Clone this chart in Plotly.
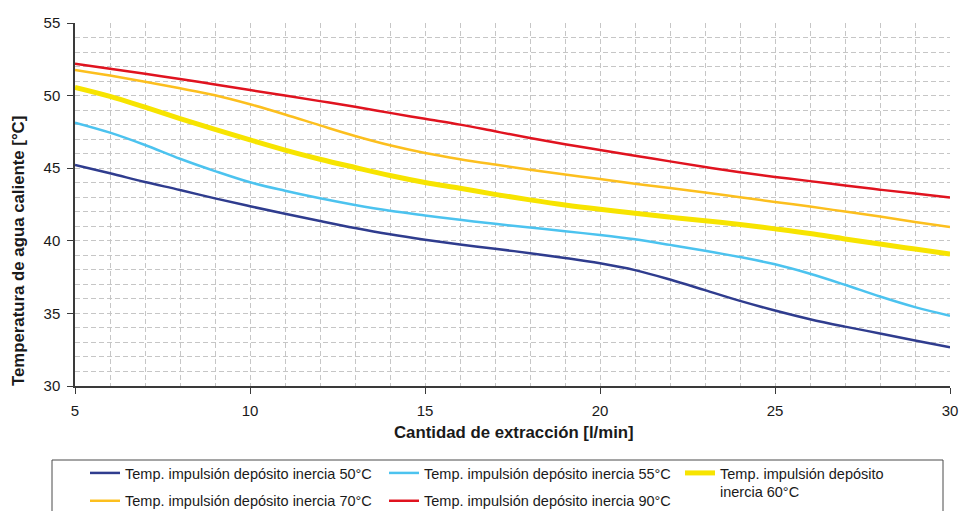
import plotly.graph_objects as go

# ---- data ----
x_flow = list(range(5, 31))  # Cantidad de extracción [l/min]

t50 = [45.22, 44.65, 44.05, 43.50, 42.92, 42.38, 41.86, 41.36, 40.88, 40.45,
       40.08, 39.75, 39.45, 39.15, 38.82, 38.45, 37.98, 37.33, 36.60, 35.86,
       35.20, 34.60, 34.09, 33.62, 33.13, 32.66]
t55 = [48.14, 47.45, 46.60, 45.65, 44.80, 44.03, 43.45, 42.93, 42.47, 42.07,
       41.75, 41.45, 41.17, 40.92, 40.66, 40.40, 40.10, 39.72, 39.32, 38.88,
       38.38, 37.73, 36.97, 36.16, 35.43, 34.84]
t60 = [50.57, 49.95, 49.20, 48.42, 47.67, 46.95, 46.25, 45.62, 45.05, 44.50,
       44.02, 43.62, 43.20, 42.82, 42.47, 42.17, 41.90, 41.63, 41.38, 41.12,
       40.82, 40.50, 40.13, 39.78, 39.43, 39.09]
t70 = [51.77, 51.38, 50.95, 50.50, 50.02, 49.40, 48.70, 47.95, 47.22, 46.58,
       46.05, 45.62, 45.25, 44.90, 44.56, 44.25, 43.93, 43.63, 43.33, 43.00,
       42.68, 42.36, 42.01, 41.67, 41.30, 40.95]
t90 = [52.20, 51.85, 51.50, 51.15, 50.77, 50.38, 50.00, 49.62, 49.23, 48.81,
       48.40, 48.00, 47.54, 47.08, 46.65, 46.25, 45.86, 45.47, 45.08, 44.72,
       44.40, 44.11, 43.81, 43.52, 43.25, 42.98]

names = ["Temp. impulsión depósito inercia 50°C",
         "Temp. impulsión depósito inercia 55°C",
         "Temp. impulsión depósito<br>inercia 60°C",
         "Temp. impulsión depósito inercia 70°C",
         "Temp. impulsión depósito inercia 90°C"]
series = [t50, t55, t60, t70, t90]
colors = ["#2f3c8e", "#4cc3ef", "#f7e400", "#fcbf1e", "#e0131f"]
widths = [2.5, 2.5, 5, 2.5, 2.5]
legends = ["legend", "legend2", "legend3", "legend", "legend2"]

x_title = "Cantidad de extracción [l/min]"
y_title = "Temperatura de agua caliente [°C]"

FONT = "Liberation Sans, Arial, Helvetica, sans-serif"

W, H = 960, 511
# plot-area geometry in pixels (for paper-coordinate conversions)
L, R, T, B = 75, 950, 23, 386
def px_x(p):
    return (p - L) / (R - L)
def px_y(p):
    return (B - p) / (B - T)

fig = go.Figure()
for i, (ys, nm, c, w, lg) in enumerate(zip(series, names, colors, widths, legends)):
    fig.add_trace(go.Scatter(
        x=x_flow, y=ys, name=nm, mode="lines",
        line=dict(color=c, width=w, shape="spline", smoothing=1.0),
        legend=lg, legendgroup=f"g{i}",
    ))

axis_common = dict(
    showline=True, linecolor="#3a3a3a", linewidth=1.5,
    ticks="outside", ticklen=6, tickcolor="#3a3a3a", tickwidth=1.2,
    showgrid=True, gridcolor="#c6c6c6", griddash="5px,3px", gridwidth=1,
    zeroline=False,
    tickfont=dict(family=FONT, size=15, color="#1a1a1a"),
    minor=dict(dtick=1, showgrid=True, gridcolor="#c6c6c6", griddash="5px,3px",
               gridwidth=1, ticks=""),
)

fig.update_xaxes(range=[5, 30], dtick=5, tick0=5, ticklabelstandoff=4, **axis_common)
fig.update_yaxes(range=[30, 55], dtick=5, tick0=30, ticklabelstandoff=4, **axis_common)

leg_common = dict(
    orientation="v", xanchor="left", yanchor="top",
    font=dict(family=FONT, size=14.5, color="#1a1a1a"),
    bgcolor="rgba(0,0,0,0)", borderwidth=0,
    traceorder="grouped", tracegroupgap=6, valign="top",
)

fig.update_layout(
    width=W, height=H,
    margin=dict(l=L, r=W - R, t=T, b=H - B, autoexpand=False),
    paper_bgcolor="white", plot_bgcolor="white",
    showlegend=True,
    legend=dict(x=px_x(85), y=px_y(457), **leg_common),
    legend2=dict(x=px_x(384), y=px_y(457), **leg_common),
    legend3=dict(x=px_x(680), y=px_y(457), **leg_common),
    shapes=[dict(type="rect", xref="paper", yref="paper",
                 x0=px_x(52), x1=px_x(943), y0=px_y(530), y1=px_y(460),
                 line=dict(color="#4a4a4a", width=1), fillcolor="rgba(0,0,0,0)")],
    annotations=[
        dict(text=f"<b>{x_title}</b>", xref="paper", yref="paper",
             x=px_x(514), y=px_y(432), showarrow=False,
             xanchor="center", yanchor="middle",
             font=dict(family=FONT, size=16.8, color="#1a1a1a")),
        dict(text=f"<b>{y_title}</b>", xref="paper", yref="paper",
             x=px_x(18), y=px_y(251), showarrow=False, textangle=-90,
             xanchor="center", yanchor="middle",
             font=dict(family=FONT, size=16.8, color="#1a1a1a")),
    ],
)

fig.write_html(
    "out.html",
    config={"displayModeBar": False},
    post_script="document.body.style.margin='0px';document.body.style.overflow='hidden';",
)
